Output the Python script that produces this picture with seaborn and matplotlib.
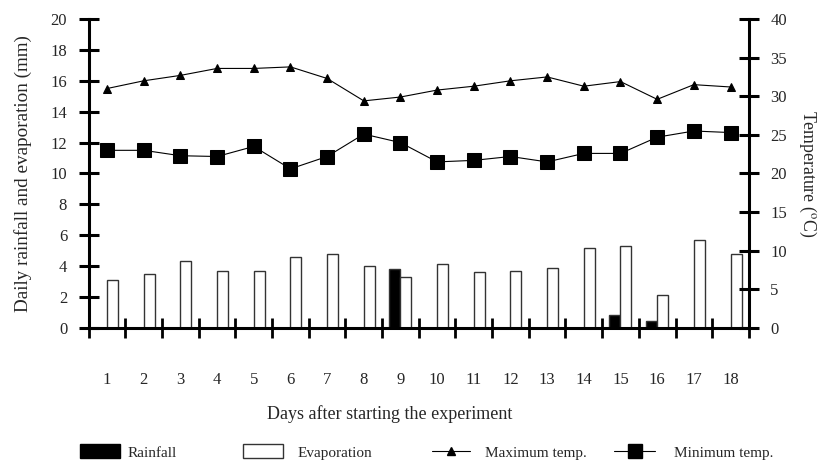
import numpy as np
import pandas as pd
import matplotlib
matplotlib.use("Agg")
import matplotlib.pyplot as plt
import seaborn as sns
from matplotlib.patches import Patch
from matplotlib.lines import Line2D

# --- data ---
days = [str(d) for d in range(1, 19)]
rainfall = [0, 0, 0, 0, 0, 0, 0, 0, 3.85, 0, 0, 0, 0, 0, 0.85, 0.45, 0, 0]
evaporation = [3.1, 3.5, 4.35, 3.7, 3.7, 4.6, 4.8, 4.0, 3.3, 4.15,
               3.6, 3.7, 3.9, 5.2, 5.3, 2.15, 5.7, 4.8]
temp_max = [31.0, 32.0, 32.7, 33.6, 33.6, 33.8, 32.3, 29.4, 29.9, 30.8,
            31.3, 32.0, 32.5, 31.3, 31.9, 29.6, 31.5, 31.2]
temp_min = [23.0, 23.0, 22.3, 22.2, 23.5, 20.6, 22.2, 25.1, 24.0, 21.5,
            21.7, 22.2, 21.5, 22.6, 22.6, 24.7, 25.5, 25.3]

df_bar = pd.DataFrame({
    "day": days * 2,
    "value": rainfall + evaporation,
    "kind": ["Rainfall"] * len(days) + ["Evaporation"] * len(days),
})

sns.set_theme(style="white")
plt.rcParams["font.family"] = ["Liberation Serif", "DejaVu Serif"]
plt.rcParams["mathtext.fontset"] = "stix"

fig = plt.figure(figsize=(8.22, 4.61), dpi=100)
ax = fig.add_axes([0.108, 0.2885, 0.803, 0.6703])

sns.barplot(data=df_bar, x="day", y="value", hue="kind", order=days,
            hue_order=["Rainfall", "Evaporation"],
            palette={"Rainfall": "black", "Evaporation": "white"},
            width=0.6, edgecolor="#333333", linewidth=1.0,
            legend=False, ax=ax)

ax2 = ax.twinx()
pos = np.arange(len(days))
sns.lineplot(x=pos, y=temp_max, ax=ax2, color="black", linewidth=0.8,
             marker="^", markersize=6, markeredgecolor="black")
sns.lineplot(x=pos, y=temp_min, ax=ax2, color="black", linewidth=0.8,
             marker="s", markersize=9.5, markeredgecolor="black")

ax.set_xlim(-0.5, len(days) - 0.5)
ax.set_ylim(0, 20)
ax.set_yticks(np.arange(0, 21, 2))
ax2.set_ylim(0, 40)
ax2.set_yticks(np.arange(0, 41, 5))
ax.set_xticks(np.arange(-0.5, len(days), 1), minor=True)

for sp in ["top", "right"]:
    ax.spines[sp].set_visible(False)
for sp in ["top", "left", "bottom"]:
    ax2.spines[sp].set_visible(False)
for sp in [ax.spines["left"], ax.spines["bottom"], ax2.spines["right"]]:
    sp.set_linewidth(2.2)
    sp.set_color("black")

ax.tick_params(axis="y", direction="inout", length=14, width=2.2, pad=8.5,
               labelsize=12, color="black", left=True)
ax2.tick_params(axis="y", direction="inout", length=14, width=2.2, pad=8.5,
                labelsize=12, color="black", right=True)
ax.tick_params(axis="x", which="major", length=0, pad=32, labelsize=12)
ax.tick_params(axis="x", which="minor", direction="inout", length=14,
               width=2, color="black", bottom=True)

ax.set_xlabel("Days after starting the experiment", fontsize=13,
              labelpad=12, x=0.456)
ax.set_ylabel("Daily rainfall and evaporation (mm)", fontsize=13.8, labelpad=13)
ax2.set_ylabel(r"Temperature ($^{\mathrm{o}}$C)", fontsize=12.8,
               rotation=270, labelpad=22)

# --- legend row along the bottom ---
ly = 1 - 452 / 461
items = [
    (Patch(facecolor="black", edgecolor="black"), "Rainfall", 80, 2.6, 0.5),
    (Patch(facecolor="white", edgecolor="#333333"), "Evaporation", 243, 2.6, 1.0),
    (Line2D([], [], color="black", lw=0.8, marker="^", markersize=6),
     "Maximum temp.", 432, 2.5, 1.0),
    (Line2D([], [], color="black", lw=0.8, marker="s", markersize=9.5),
     "Minimum temp.", 614, 2.7, 1.2),
]
for h, lab, x, hl, tp in items:
    fig.legend(handles=[h], labels=[lab], loc="center left",
               bbox_to_anchor=(x / 822, ly), frameon=False, fontsize=11,
               handlelength=hl, handleheight=1.0, handletextpad=tp,
               borderpad=0, borderaxespad=0)

fig.savefig("out.png", dpi=100)
